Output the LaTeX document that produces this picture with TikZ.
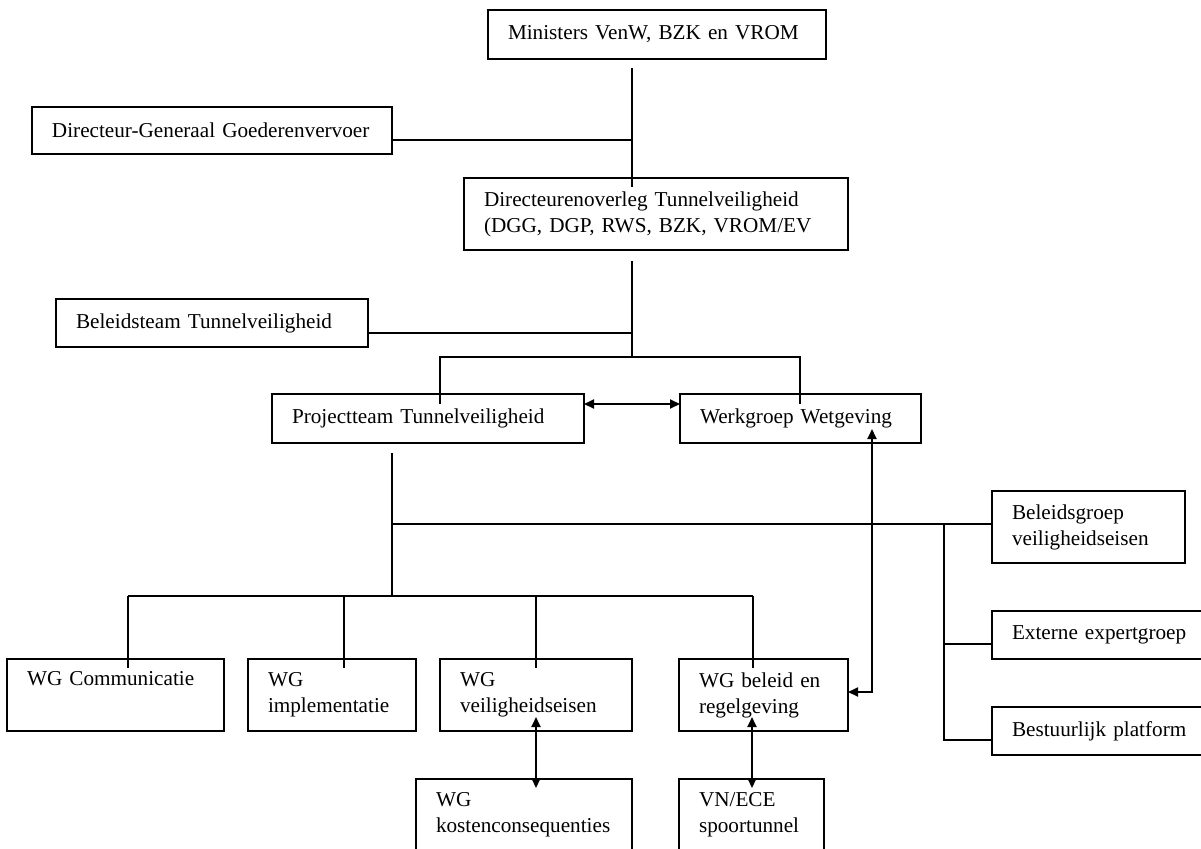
\documentclass[tikz,border=0pt]{standalone}
\usepackage{fontspec}
\setmainfont{Liberation Serif}
\usetikzlibrary{arrows.meta,calc}
\begin{document}
\begin{tikzpicture}[x=0.5pt,y=-0.5pt,
  box/.style={draw, line width=1pt, rectangle, anchor=north west, outer sep=0pt,
    inner xsep=10pt, inner ysep=0pt, align=left,
    font=\fontsize{10.6pt}{13pt}\selectfont,
    execute at begin node={\hyphenpenalty=10000\relax\exhyphenpenalty=10000\relax}},
  link/.style={line width=0.7pt},
  dbl/.style={line width=0.9pt,
    {Triangle[length=5pt,width=4.5pt]}-{Triangle[length=5pt,width=4.5pt]}},
]
\fill[white] (0,0) rectangle (1201,848);
\useasboundingbox (0,0) rectangle (1201,848);

% ---- boxes ----
\node[box, text width=149pt, minimum height=24.5pt] (min) at (488,10) {Ministers VenW, BZK en VROM};
\node[box, text width=160pt, minimum height=23.5pt] (dg) at (32,107) {Directeur-Generaal Goederenvervoer};
\node[box, text width=172pt, minimum height=36pt] (dir) at (464,178) {Directeurenoverleg Tunnelveiligheid\\(DGG, DGP, RWS, BZK, VROM/EV};
\node[box, text width=136pt, minimum height=24pt] (bt) at (56,299) {Beleidsteam Tunnelveiligheid};
\node[box, text width=136pt, minimum height=24.5pt] (pt) at (272,394) {Projectteam Tunnelveiligheid};
\node[box, text width=100.5pt, minimum height=24.5pt] (wg) at (680,394) {Werkgroep Wetgeving};
\node[box, text width=76.5pt, minimum height=36pt] (bg) at (992,491) {Beleidsgroep\\veiligheidseisen};
\node[box, text width=90pt, minimum height=24pt] (ext) at (992,611) {Externe expertgroep};
\node[box, text width=90pt, minimum height=24pt] (bp) at (992,707) {Bestuurlijk platform};
\node[box, text width=88.5pt, minimum height=36pt] (com) at (7,659) {WG Communicatie\\\strut};
\node[box, text width=64pt, minimum height=36pt] (imp) at (248,659) {WG\\implementatie};
\node[box, text width=76pt, minimum height=36pt] (vei) at (440,659) {WG\\veiligheidseisen};
\node[box, text width=64.5pt, minimum height=36pt] (bel) at (679,659) {WG beleid en\\regelgeving};
\node[box, text width=88pt, minimum height=36pt] (kos) at (416,779) {WG\\kostenconsequenties};
\node[box, text width=52.5pt, minimum height=36pt] (vn) at (679,779) {VN/ECE\\spoortunnel};

% ---- upper spine ----
\coordinate (a1) at (632,68);
\coordinate (a2) at (632,187);
\coordinate (aDG) at (632,140);
\draw[link] (a1) -- (a2);
\draw[link] (dg.east |- aDG) -- (aDG);

\coordinate (b1) at (632,261);
\coordinate (b2) at (632,357);
\coordinate (bBT) at (632,333);
\draw[link] (b1) -- (b2);
\draw[link] (bt.east |- bBT) -- (bBT);

\coordinate (cL) at (440,357);
\coordinate (cR) at (800,357);
\draw[link] ($(cL)+(0,47)$) -- (cL) -- (cR) -- ($(cR)+(0,47)$);

\coordinate (dY) at (632,404);
\draw[dbl] (pt.east |- dY) -- (wg.west |- dY);

% ---- lower spine ----
\coordinate (e1) at (392,453);
\coordinate (e2) at (392,596);
\coordinate (eR) at (392,524);
\draw[link] (e1) -- (e2);
\draw[link] (eR) -- (bg.west |- eR);

\coordinate (f1) at (944,524);
\coordinate (fE) at (944,644);
\coordinate (fB) at (944,740);
\draw[link] (f1) -- (fB) -- (bp.west |- fB);
\draw[link] (fE) -- (ext.west |- fE);

\coordinate (g1) at (128,596);
\coordinate (g2) at (344,596);
\coordinate (g3) at (536,596);
\coordinate (g4) at (753,596);
\draw[link] (g1) -- (g4);
\foreach \g in {g1,g2,g3,g4} \draw[link] (\g) -- ++(0,72);

% ---- two-way links ----
\coordinate (h1) at (872,429);
\coordinate (h2) at (872,692);
\draw[dbl] (h1) -- (h2) -- (bel.east |- h2);

\coordinate (k1) at (536,717);
\coordinate (k2) at (536,788);
\draw[dbl] (k1) -- (k2);

\coordinate (m1) at (752,717);
\coordinate (m2) at (752,788);
\draw[dbl] (m1) -- (m2);
\end{tikzpicture}
\end{document}
